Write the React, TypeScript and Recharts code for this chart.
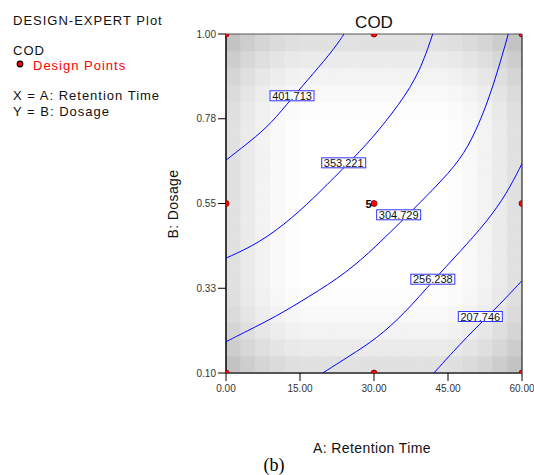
import React from 'react';
import {
  ComposedChart,
  XAxis,
  YAxis,
  Scatter,
  ReferenceArea,
  ReferenceLine,
} from 'recharts';

// Axis ticks
const xTicks = [0, 15, 30, 45, 60];
const yTicks = [0.1, 0.325, 0.55, 0.775, 1.0];
const yTickLabels = ['0.10', '0.33', '0.55', '0.78', '1.00'];

// COD contour lines (A: Retention Time, B: Dosage)
const contour401 = [
  { x: 0, y: 0.665 },
  { x: 5.01, y: 0.716 },
  { x: 9.12, y: 0.762 },
  { x: 13.44, y: 0.831 },
  { x: 17.7, y: 0.895 },
  { x: 21.89, y: 0.96 },
  { x: 23.92, y: 1.0 },
];
const contour353 = [
  { x: 0, y: 0.405 },
  { x: 6.75, y: 0.445 },
  { x: 13.52, y: 0.512 },
  { x: 19.06, y: 0.581 },
  { x: 24.73, y: 0.656 },
  { x: 29.39, y: 0.719 },
  { x: 35.27, y: 0.815 },
  { x: 39.32, y: 0.9 },
  { x: 41.9, y: 1.0 },
];
const contour305 = [
  { x: 0, y: 0.183 },
  { x: 4.05, y: 0.21 },
  { x: 10.14, y: 0.25 },
  { x: 16.88, y: 0.303 },
  { x: 24.32, y: 0.365 },
  { x: 30.4, y: 0.436 },
  { x: 36.28, y: 0.512 },
  { x: 42.7, y: 0.597 },
  { x: 47.43, y: 0.664 },
  { x: 50.81, y: 0.744 },
  { x: 54.18, y: 0.86 },
  { x: 57.22, y: 1.0 },
];
const contour256 = [
  { x: 19.6, y: 0.1 },
  { x: 25.13, y: 0.146 },
  { x: 30.4, y: 0.19 },
  { x: 36.28, y: 0.259 },
  { x: 41.95, y: 0.345 },
  { x: 47.43, y: 0.422 },
  { x: 52.84, y: 0.501 },
  { x: 56.9, y: 0.576 },
  { x: 60, y: 0.656 },
];
const contour208 = [
  { x: 42.15, y: 0.1 },
  { x: 47.43, y: 0.177 },
  { x: 52.84, y: 0.248 },
  { x: 56.21, y: 0.292 },
  { x: 60, y: 0.345 },
];

// Contour value labels
const contourLabels = [
  { x: 13.38, y: 0.836, text: '401.713' },
  { x: 23.86, y: 0.658, text: '353.221' },
  { x: 35.0, y: 0.52, text: '304.729' },
  { x: 41.92, y: 0.349, text: '256.238' },
  { x: 51.55, y: 0.25, text: '207.746' },
];

// Design points (center point replicated 5 times)
const designPoints = [
  { x: 0, y: 0.1 },
  { x: 0, y: 0.55 },
  { x: 0, y: 1.0 },
  { x: 30, y: 0.1 },
  { x: 30, y: 0.55, reps: 5 },
  { x: 30, y: 1.0 },
  { x: 60, y: 0.1 },
  { x: 60, y: 0.55 },
  { x: 60, y: 1.0 },
];

// Background shading grid: darkness steps inward from each edge
const gridSize = 20;
const edgeShade = [30, 20, 12, 6, 2];

const FONT = '"Liberation Sans", Arial, Helvetica, sans-serif';

const shadeCells = (() => {
  const cells: { x1: number; x2: number; y1: number; y2: number; fill: string }[] = [];
  const dx = 60 / gridSize;
  const dy = 0.9 / gridSize;
  for (let i = 0; i < gridSize; i++) {
    for (let j = 0; j < gridSize; j++) {
      const di = Math.min(i, gridSize - 1 - i);
      const dj = Math.min(j, gridSize - 1 - j);
      const d = (edgeShade[di] || 0) + (edgeShade[dj] || 0);
      if (d === 0) continue;
      const g = 255 - d;
      cells.push({
        x1: i * dx,
        x2: (i + 1) * dx,
        y1: 0.1 + j * dy,
        y2: 0.1 + (j + 1) * dy,
        fill: `rgb(${g},${g},${g})`,
      });
    }
  }
  return cells;
})();

const NoDot = () => <g />;

const LabelBox = (props: any) => {
  const { cx, cy, payload } = props;
  return (
    <g>
      <rect x={cx - 22} y={cy - 5} width={44} height={10} fill="#ffffff" stroke="#3333ff" strokeWidth={1} />
      <text x={cx} y={cy + 4} textAnchor="middle" fontSize={11} fontFamily={FONT} fill="#111">
        {payload.text}
      </text>
    </g>
  );
};

const DesignDot = (props: any) => {
  const { cx, cy, payload } = props;
  return (
    <g>
      <circle cx={cx} cy={cy} r={3} fill="#ff0000" stroke="#7a0000" strokeWidth={0.8} />
      {payload.reps ? (
        <text x={cx - 2.5} y={cy + 4} textAnchor="end" fontSize={11} fontWeight="bold" fontFamily={FONT} fill="#000">
          {payload.reps}
        </text>
      ) : null}
    </g>
  );
};

const contours = [contour401, contour353, contour305, contour256, contour208];

export default function App() {
  return (
    <div style={{ position: 'absolute', left: 0, top: 0, width: 534, height: 475, background: '#fff' }}>
      <ComposedChart
        width={534}
        height={475}
        margin={{ top: 34, right: 12, left: 166, bottom: 72 }}
      >
        <XAxis
          type="number"
          dataKey="x"
          domain={[0, 60]}
          ticks={xTicks}
          interval={0}
          allowDataOverflow
          height={30}
          tickSize={8}
          tickMargin={4}
          tickFormatter={(v: number) => v.toFixed(2)}
          tick={{ fontSize: 10, fill: '#333', fontFamily: FONT }}
          axisLine={{ stroke: '#555', strokeWidth: 2 }}
          tickLine={{ stroke: '#000' }}
        />
        <YAxis
          type="number"
          dataKey="y"
          domain={[0.1, 1.0]}
          ticks={yTicks}
          interval={0}
          allowDataOverflow
          width={60}
          tickSize={8}
          tickMargin={2}
          tickFormatter={(v: number) => yTickLabels[yTicks.indexOf(v)] ?? v.toFixed(2)}
          tick={{ fontSize: 10, fill: '#333', fontFamily: FONT }}
          axisLine={{ stroke: '#000', strokeWidth: 1.5 }}
          tickLine={{ stroke: '#000' }}
        />
        {shadeCells.map((c, k) => (
          <ReferenceArea
            key={`cell-${k}`}
            x1={c.x1}
            x2={c.x2}
            y1={c.y1}
            y2={c.y2}
            fill={c.fill}
            fillOpacity={1}
            stroke={c.fill}
            strokeWidth={0.5}
            ifOverflow="hidden"
          />
        ))}
        <ReferenceLine y={1.0} stroke="#555" strokeWidth={1} />
        <ReferenceLine x={60} stroke="#000" strokeWidth={1} />
        {contours.map((c, k) => (
          <Scatter
            key={`contour-${k}`}
            data={c}
            line={{ stroke: '#0000ff', strokeWidth: 1 }}
            lineJointType="basis"
            shape={NoDot}
            isAnimationActive={false}
          />
        ))}
        <Scatter data={contourLabels} shape={LabelBox} isAnimationActive={false} />
        <Scatter data={designPoints} shape={DesignDot} isAnimationActive={false} />
      </ComposedChart>
      <svg
        width={534}
        height={475}
        style={{ position: 'absolute', left: 0, top: 0, pointerEvents: 'none' }}
      >
        <g fontFamily={FONT} fill="#111">
          <text x={13} y={25} fontSize={13} letterSpacing={1}>DESIGN-EXPERT Plot</text>
          <text x={13} y={55} fontSize={13} letterSpacing={1}>COD</text>
          <circle cx={20} cy={64} r={2.8} fill="#ff0000" stroke="#000" strokeWidth={1.2} />
          <text x={33} y={70} fontSize={13} letterSpacing={1} fill="#ff0000">Design Points</text>
          <text x={13} y={100} fontSize={13} letterSpacing={1}>X = A: Retention Time</text>
          <text x={13} y={116} fontSize={13} letterSpacing={1}>Y = B: Dosage</text>
          <text x={374} y={28} fontSize={17} textAnchor="middle">COD</text>
          <text x={372} y={453} fontSize={14} letterSpacing={0.4} textAnchor="middle">A: Retention Time</text>
          <text
            x={178}
            y={204}
            fontSize={14}
            letterSpacing={0.4}
            textAnchor="middle"
            transform="rotate(-90 178 204)"
          >
            B: Dosage
          </text>
        </g>
        <text x={274} y={471} fontSize={18} textAnchor="middle" fontFamily='"Liberation Serif", "Times New Roman", serif' fill="#000">
          (b)
        </text>
      </svg>
    </div>
  );
}
